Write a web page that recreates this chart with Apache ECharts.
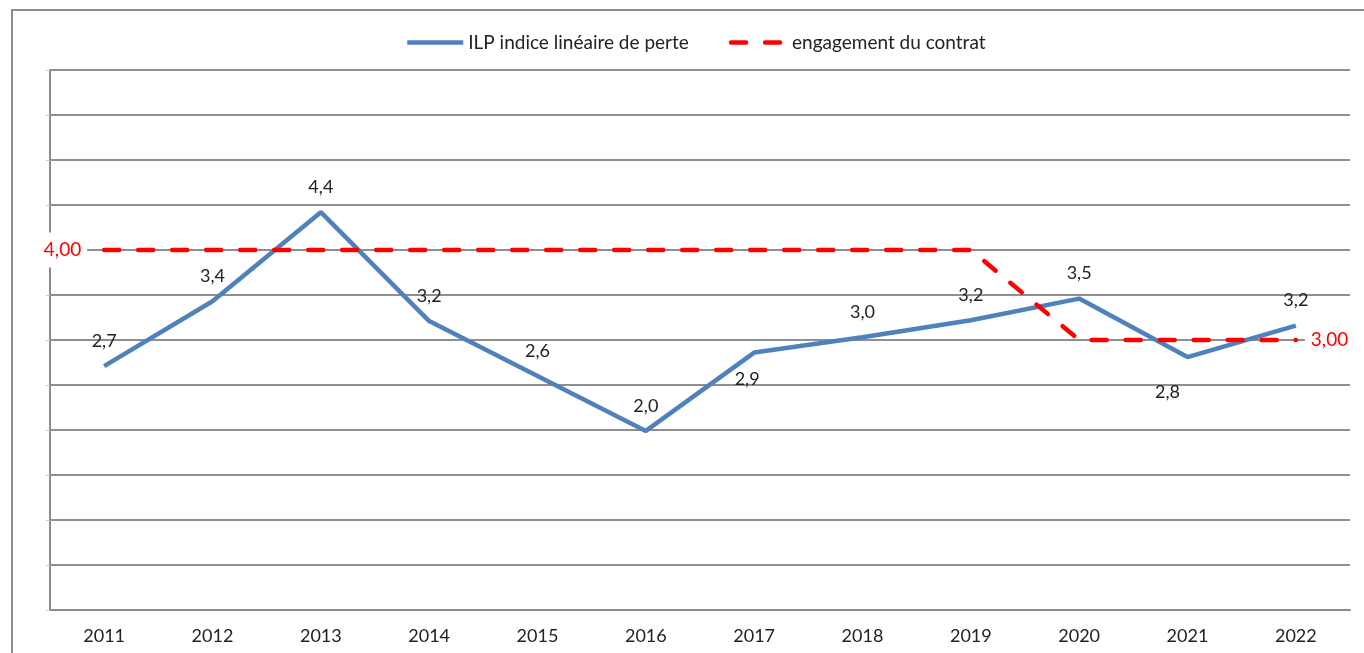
<!DOCTYPE html>
<html>
<head>
<meta charset="utf-8">
<title>ILP indice linéaire de perte</title>
<script src="https://cdn.jsdelivr.net/npm/echarts@6/dist/echarts.min.js"></script>
<style>
  html, body { margin: 0; padding: 0; background: #fff; }
  #chart { width: 1364px; height: 653px; }
</style>
</head>
<body>
<div id="chart"></div>
<script>
// donnees
var years = ['2011', '2012', '2013', '2014', '2015', '2016', '2017', '2018', '2019', '2020', '2021', '2022'];
var ilp = [2.71, 3.43, 4.42, 3.21, 2.6, 1.99, 2.86, 3.03, 3.22, 3.46, 2.81, 3.16];
var engagement = [4, 4, 4, 4, 4, 4, 4, 4, 4, 3, 3, 3];

var FONT = 'Lato';

function virgule(v, d) {
    return v.toFixed(d).replace('.', ',');
}

// etiquettes placees sous le point (decalage x, distance)
var sous = { '2017': [-7, 17], '2021': [-20, 25] };

var ilpData = ilp.map(function (v, i) {
    var item = { value: v };
    if (sous[years[i]]) {
        item.label = { position: 'bottom', offset: [sous[years[i]][0], 0], distance: sous[years[i]][1] };
    }
    return item;
});

var engData = engagement.map(function (v, i) {
    var item = { value: v };
    if (i === 0) {
        item.label = { show: true, position: 'left', distance: 16 };
    } else if (i === engagement.length - 1) {
        item.label = { show: true, position: 'right', distance: 8 };
    }
    return item;
});

var chart = echarts.init(document.getElementById('chart'));

chart.setOption({
    animation: false,
    textStyle: { fontFamily: FONT },
    graphic: [{
        type: 'rect',
        silent: true,
        z: -10,
        shape: { x: 12, y: 10, width: 1400, height: 700 },
        style: { fill: 'none', stroke: '#8c8c8c', lineWidth: 2 }
    }],
    legend: {
        top: 28,
        left: 400,
        itemWidth: 56,
        itemHeight: 14,
        itemGap: 40,
        lineStyle: { width: 4.5 },
        textStyle: { fontFamily: FONT, fontSize: 19, color: '#222' },
        data: ['ILP indice linéaire de perte', 'engagement du contrat']
    },
    grid: { left: 50, right: 14, top: 70, bottom: 43 },
    xAxis: {
        type: 'category',
        data: years,
        axisLine: { lineStyle: { color: '#8c8c8c', width: 2 } },
        axisTick: { length: 6, lineStyle: { color: '#8c8c8c', width: 2 } },
        axisLabel: { margin: 17, color: '#222', fontSize: 18, fontFamily: FONT }
    },
    yAxis: {
        type: 'value',
        min: 0,
        max: 6,
        interval: 0.5,
        axisLine: { show: true, lineStyle: { color: '#8c8c8c', width: 2 } },
        axisTick: { show: true, length: 4, lineStyle: { color: '#c8c8c8', width: 1 } },
        axisLabel: { show: false },
        splitLine: { lineStyle: { color: '#8f8f8f', width: 2 } }
    },
    series: [
        {
            name: 'ILP indice linéaire de perte',
            type: 'line',
            data: ilpData,
            symbol: 'circle',
            symbolSize: 2,
            showSymbol: true,
            itemStyle: { color: 'rgba(79,129,189,0)' },
            lineStyle: { color: '#4f81bd', width: 4.5 },
            label: {
                show: true,
                position: 'top',
                distance: 15,
                color: '#222',
                fontSize: 18,
                fontFamily: FONT,
                formatter: function (p) { return virgule(p.value, 1); }
            },
            z: 2
        },
        {
            name: 'engagement du contrat',
            type: 'line',
            data: engData,
            symbol: 'circle',
            symbolSize: 2,
            showSymbol: true,
            itemStyle: { color: 'rgba(255,0,0,0)' },
            lineStyle: { color: '#ff0000', width: 4.5, type: [15, 19], cap: 'round' },
            label: {
                show: false,
                color: '#ff0000',
                fontSize: 19,
                fontFamily: FONT,
                backgroundColor: '#fff',
                padding: [8, 6],
                formatter: function (p) { return virgule(p.value, 2); }
            },
            z: 3
        }
    ]
});
</script>
</body>
</html>
